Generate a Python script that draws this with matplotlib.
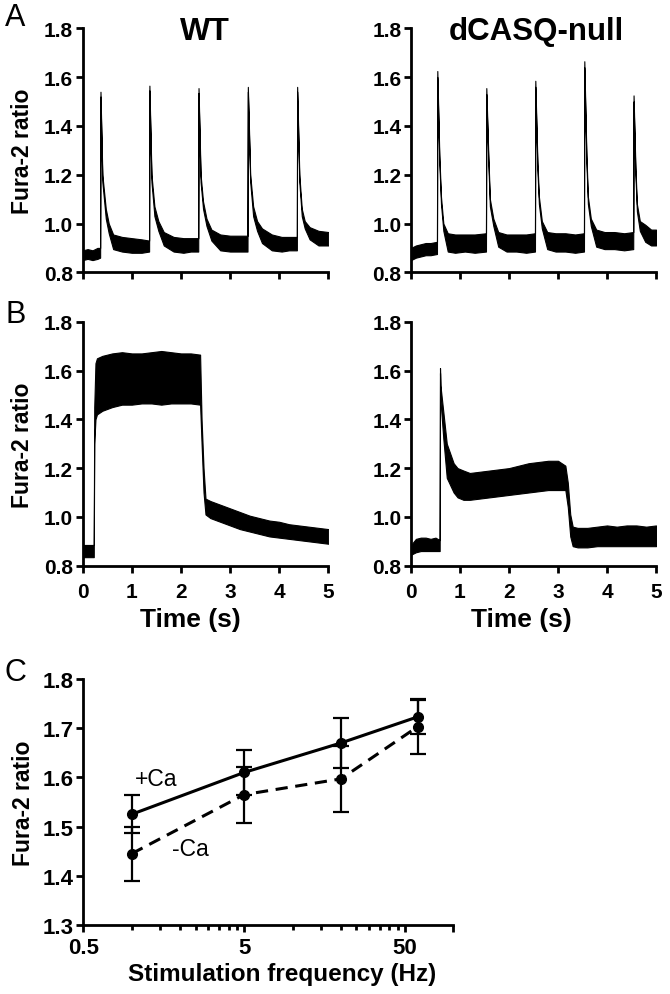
import numpy as np
import matplotlib
matplotlib.use("Agg")
import matplotlib.pyplot as plt
from matplotlib.ticker import FixedLocator, NullFormatter

plt.rcParams['font.family'] = ['Liberation Sans', 'DejaVu Sans']

# ---- Panel A, WT: 1 Hz twitches (time s, lower / upper edge of the noisy trace)
wt_a_t = [0.00, 0.10, 0.20, 0.30, 0.355, 0.362, 0.40, 0.47, 0.53, 0.62, 0.80, 1.00, 1.20, 1.352,
          1.358, 1.40, 1.46, 1.54, 1.65, 1.85, 2.05, 2.20, 2.352,
          2.358, 2.40, 2.45, 2.52, 2.62, 2.80, 3.00, 3.20, 3.355,
          3.362, 3.41, 3.47, 3.55, 3.65, 3.85, 4.05, 4.20, 4.36,
          4.366, 4.41, 4.46, 4.52, 4.62, 4.80, 5.00]
wt_a_lo = [0.85, 0.855, 0.85, 0.855, 0.86, 1.52, 1.17, 1.02, 0.96, 0.895, 0.885, 0.88, 0.88, 0.885,
           1.545, 1.17, 1.03, 0.97, 0.91, 0.885, 0.88, 0.885, 0.885,
           1.535, 1.17, 1.06, 0.99, 0.93, 0.89, 0.885, 0.885, 0.885,
           1.54, 1.17, 1.03, 0.97, 0.92, 0.89, 0.885, 0.89, 0.89,
           1.54, 1.17, 1.03, 0.98, 0.935, 0.91, 0.91]
wt_a_hi = [0.89, 0.895, 0.89, 0.90, 0.90, 1.54, 1.20, 1.06, 1.00, 0.955, 0.945, 0.94, 0.935, 0.93,
           1.565, 1.20, 1.07, 1.01, 0.965, 0.945, 0.94, 0.94, 0.94,
           1.555, 1.20, 1.09, 1.02, 0.975, 0.955, 0.95, 0.95, 0.95,
           1.56, 1.20, 1.07, 1.01, 0.98, 0.955, 0.945, 0.945, 0.945,
           1.56, 1.20, 1.06, 1.01, 0.985, 0.97, 0.965]

# ---- Panel A, dCASQ-null
ko_a_t = [0.00, 0.10, 0.20, 0.30, 0.40, 0.53,
          0.537, 0.578, 0.612, 0.66, 0.75, 0.90, 1.10, 1.30, 1.53,
          1.537, 1.578, 1.61, 1.68, 1.78, 1.95, 2.15, 2.35, 2.53,
          2.537, 2.58, 2.61, 2.67, 2.78, 2.95, 3.15, 3.35, 3.53,
          3.537, 3.58, 3.61, 3.67, 3.78, 3.95, 4.15, 4.35, 4.535,
          4.542, 4.58, 4.61, 4.67, 4.78, 4.90, 5.00]
ko_a_lo = [0.85, 0.86, 0.865, 0.87, 0.87, 0.875,
           1.60, 1.25, 1.08, 0.97, 0.885, 0.88, 0.885, 0.88, 0.885,
           1.53, 1.25, 1.07, 0.99, 0.905, 0.885, 0.885, 0.88, 0.885,
           1.56, 1.22, 1.08, 0.98, 0.895, 0.885, 0.885, 0.88, 0.885,
           1.64, 1.25, 1.08, 0.99, 0.905, 0.895, 0.895, 0.89, 0.895,
           1.50, 1.20, 1.05, 0.97, 0.925, 0.91, 0.91]
ko_a_hi = [0.90, 0.91, 0.915, 0.92, 0.92, 0.925,
           1.625, 1.28, 1.11, 1.00, 0.96, 0.955, 0.955, 0.955, 0.96,
           1.555, 1.28, 1.10, 1.02, 0.965, 0.955, 0.955, 0.955, 0.96,
           1.585, 1.25, 1.11, 1.01, 0.965, 0.96, 0.96, 0.955, 0.96,
           1.665, 1.28, 1.11, 1.02, 0.975, 0.965, 0.965, 0.96, 0.965,
           1.525, 1.23, 1.08, 1.01, 0.995, 0.975, 0.975]

# ---- Panel B, WT: tetanus
wt_b_t = [0.00, 0.10, 0.20, 0.225, 0.235, 0.26, 0.29, 0.40, 0.60, 0.80, 1.00, 1.20, 1.40, 1.60, 1.80,
          2.00, 2.20, 2.39, 2.42, 2.46, 2.50, 2.60, 2.80, 3.00, 3.20, 3.40, 3.60, 3.80, 4.00, 4.20,
          4.40, 4.60, 4.80, 5.00]
wt_b_lo = [0.835, 0.835, 0.835, 0.835, 1.30, 1.40, 1.42, 1.435, 1.45, 1.46, 1.46, 1.465, 1.465, 1.46, 1.465,
           1.465, 1.465, 1.46, 1.30, 1.10, 1.01, 0.995, 0.98, 0.965, 0.95, 0.94, 0.93, 0.92, 0.915, 0.91,
           0.905, 0.90, 0.895, 0.89]
wt_b_hi = [0.885, 0.885, 0.885, 0.885, 1.45, 1.63, 1.65, 1.66, 1.67, 1.675, 1.67, 1.67, 1.675, 1.68, 1.675,
           1.67, 1.67, 1.665, 1.40, 1.20, 1.075, 1.065, 1.05, 1.035, 1.02, 1.005, 0.995, 0.985, 0.98, 0.97,
           0.965, 0.96, 0.955, 0.95]

# ---- Panel B, dCASQ-null
ko_b_t = [0.00, 0.10, 0.20, 0.30, 0.40, 0.50, 0.585,
          0.592, 0.60, 0.66, 0.73, 0.80, 0.87, 0.95, 1.07, 1.20, 1.40, 1.60, 1.80, 2.00, 2.20, 2.40,
          2.60, 2.80, 3.00, 3.15, 3.20, 3.25, 3.30, 3.40, 3.60, 3.80, 4.00, 4.20, 4.40, 4.60, 4.80, 5.00]
ko_b_lo = [0.845, 0.855, 0.86, 0.86, 0.86, 0.86, 0.86,
           1.59, 1.48, 1.32, 1.16, 1.13, 1.10, 1.08, 1.07, 1.07, 1.075, 1.08, 1.085, 1.09, 1.095, 1.10,
           1.105, 1.11, 1.11, 1.11, 1.04, 0.92, 0.88, 0.875, 0.875, 0.88, 0.88, 0.88, 0.88, 0.88, 0.88, 0.88]
ko_b_hi = [0.885, 0.91, 0.915, 0.915, 0.91, 0.915, 0.905,
           1.61, 1.54, 1.43, 1.30, 1.26, 1.22, 1.20, 1.19, 1.18, 1.185, 1.19, 1.195, 1.20, 1.21, 1.22,
           1.225, 1.23, 1.23, 1.21, 1.14, 1.01, 0.96, 0.955, 0.955, 0.96, 0.965, 0.96, 0.965, 0.965, 0.96, 0.965]

# ---- Panel C: peak ratio vs stimulation frequency
freq = [1, 5, 20, 60]
plus_ca = [1.525, 1.61, 1.67, 1.723]
plus_ca_err = [0.039, 0.045, 0.05, 0.034]
minus_ca = [1.445, 1.565, 1.597, 1.703]
minus_ca_err = [0.055, 0.057, 0.067, 0.056]

trace_yticks = [0.8, 1.0, 1.2, 1.4, 1.6, 1.8]
time_ticks = [0, 1, 2, 3, 4, 5]

fig = plt.figure(figsize=(6.7, 9.95), dpi=100)
W, H = 670.0, 995.0


def rect(x0, y_top, x1, y_bot):
    return [x0 / W, 1 - y_bot / H, (x1 - x0) / W, (y_bot - y_top) / H]


def style(ax, fs):
    for s in ['top', 'right']:
        ax.spines[s].set_visible(False)
    for s in ['left', 'bottom']:
        ax.spines[s].set_linewidth(2.0)
    ax.tick_params(width=2.0, length=5, labelsize=fs)
    for lab in ax.get_xticklabels() + ax.get_yticklabels():
        lab.set_fontweight('bold')


def trace(r, t, lo, hi, labels):
    ax = fig.add_axes(r)
    ax.fill_between(t, lo, hi, facecolor='black', edgecolor='black', lw=0.8)
    ax.set_xlim(0, 5)
    ax.set_ylim(0.8, 1.8)
    ax.set_yticks(trace_yticks)
    ax.set_yticklabels([f'{v:.1f}' for v in trace_yticks])
    ax.set_xticks(time_ticks)
    if labels:
        ax.set_xticklabels([str(v) for v in time_ticks])
    else:
        ax.set_xticklabels([])
    style(ax, 15)
    ax.tick_params(axis='y', pad=2)
    ax.tick_params(axis='x', pad=7)
    return ax


ax_a1 = trace(rect(82.7, 29.3, 328.3, 273.3), wt_a_t, wt_a_lo, wt_a_hi, False)
ax_a2 = trace(rect(411, 29.3, 656, 273.3), ko_a_t, ko_a_lo, ko_a_hi, False)
ax_b1 = trace(rect(82.7, 322.7, 328.3, 566.7), wt_b_t, wt_b_lo, wt_b_hi, True)
ax_b2 = trace(rect(411, 322.7, 656, 566.7), ko_b_t, ko_b_lo, ko_b_hi, True)

fig.text(205 / W, 1 - 32 / H, 'WT', ha='center', va='center', fontsize=23, fontweight='bold')
fig.text(536 / W, 1 - 32 / H, 'dCASQ-null', ha='center', va='center', fontsize=22.5, fontweight='bold')
fig.text(23 / W, 1 - 151 / H, 'Fura-2 ratio', rotation=90, ha='center', va='center',
         fontsize=16.5, fontweight='bold')
fig.text(23 / W, 1 - 445 / H, 'Fura-2 ratio', rotation=90, ha='center', va='center',
         fontsize=16.5, fontweight='bold')
fig.text(190 / W, 1 - 620 / H, 'Time (s)', ha='center', va='center', fontsize=19, fontweight='bold')
fig.text(521 / W, 1 - 620 / H, 'Time (s)', ha='center', va='center', fontsize=19, fontweight='bold')

for letter, y in [('A', 18), ('B', 315), ('C', 673)]:
    fig.text(5 / W, 1 - y / H, letter, ha='left', va='center', fontsize=22)

# Panel C
ax_c = fig.add_axes(rect(83.3, 680, 453.3, 926))
ax_c.set_xscale('log')
ax_c.errorbar(freq, plus_ca, yerr=plus_ca_err, color='black', lw=2.2, marker='o', ms=7,
              capsize=6, elinewidth=1.6, capthick=1.6)
ax_c.errorbar(freq, minus_ca, yerr=minus_ca_err, color='black', lw=2.2, ls=(0, (4, 2.5)),
              marker='o', ms=7, capsize=6, elinewidth=1.6, capthick=1.6)
ax_c.set_xlim(0.5, 100)
ax_c.set_ylim(1.3, 1.8)
ax_c.set_yticks([1.3, 1.4, 1.5, 1.6, 1.7, 1.8])
ax_c.set_yticklabels(['1.3', '1.4', '1.5', '1.6', '1.7', '1.8'])
ax_c.set_xticks([0.5, 5, 50, 100])
ax_c.set_xticklabels(['0.5', '5', '50', ''])
ax_c.xaxis.set_minor_locator(FixedLocator([1, 1.5, 2, 2.5, 3, 3.5, 4, 4.5,
                                           10, 15, 20, 25, 30, 35, 40, 45]))
ax_c.xaxis.set_minor_formatter(NullFormatter())
style(ax_c, 16)
ax_c.tick_params(which='minor', width=2.0, length=3.5)
ax_c.tick_params(axis='y', pad=2)
ax_c.tick_params(axis='x', pad=4)
ax_c.text(1.42, 1.597, '+Ca', ha='center', va='center', fontsize=16.5)
ax_c.text(2.31, 1.455, '-Ca', ha='center', va='center', fontsize=16.5)

fig.text(24 / W, 1 - 803 / H, 'Fura-2 ratio', rotation=90, ha='center', va='center',
         fontsize=16.5, fontweight='bold')
fig.text(282 / W, 1 - 975 / H, 'Stimulation frequency (Hz)', ha='center', va='center',
         fontsize=17.5, fontweight='bold')

fig.savefig('out.png', dpi=100)
